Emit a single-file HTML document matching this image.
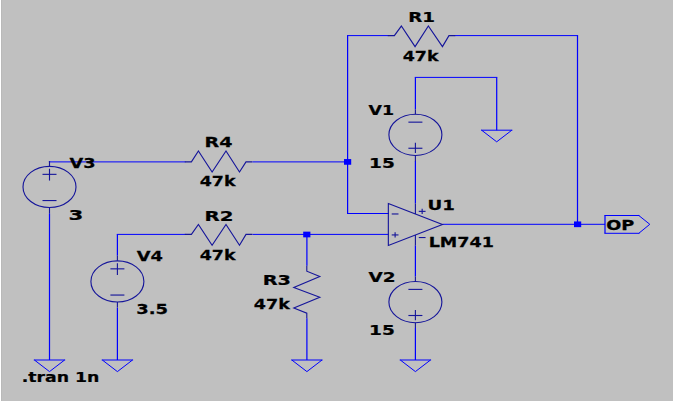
<!DOCTYPE html>
<html><head><meta charset="utf-8"><title>LM741 circuit</title>
<style>
html,body{margin:0;padding:0;background:#c0c0c0;overflow:hidden}
svg{display:block}
text{font-family:"DejaVu Sans", "Liberation Sans", sans-serif;font-weight:bold;font-size:14.9px;fill:#000;stroke:#000;stroke-width:0.25px}
</style></head><body>
<svg width="673" height="401" viewBox="0 0 673 401">
<rect x="0" y="0" width="673" height="401" fill="#c0c0c0"/>
<rect x="0" y="0" width="1" height="401" fill="#ffffff"/>
<rect x="1" y="0" width="1" height="401" fill="#b9b9b9"/>
<line x1="48.90" y1="161.90" x2="185.40" y2="161.90" stroke="#0000ff" stroke-width="1.0"/>
<line x1="49.50" y1="161.40" x2="49.50" y2="162.10" stroke="#0000ff" stroke-width="1.22"/>
<line x1="252.45" y1="161.90" x2="347.60" y2="161.90" stroke="#0000ff" stroke-width="1.0"/>
<line x1="347.00" y1="35.60" x2="388.35" y2="35.60" stroke="#0000ff" stroke-width="1.0"/>
<line x1="347.60" y1="35.60" x2="347.60" y2="213.50" stroke="#0000ff" stroke-width="1.22"/>
<line x1="347.00" y1="213.50" x2="389.00" y2="213.50" stroke="#0000ff" stroke-width="1.0"/>
<line x1="454.80" y1="35.60" x2="578.10" y2="35.60" stroke="#0000ff" stroke-width="1.0"/>
<line x1="577.50" y1="35.60" x2="577.50" y2="224.30" stroke="#0000ff" stroke-width="1.22"/>
<line x1="442.50" y1="224.30" x2="605.00" y2="224.30" stroke="#0000ff" stroke-width="1.0"/>
<line x1="415.40" y1="109.50" x2="415.40" y2="77.40" stroke="#0000ff" stroke-width="1.22"/>
<line x1="414.80" y1="77.40" x2="497.30" y2="77.40" stroke="#0000ff" stroke-width="1.0"/>
<line x1="496.70" y1="77.40" x2="496.70" y2="130.20" stroke="#0000ff" stroke-width="1.22"/>
<line x1="415.40" y1="161.00" x2="415.40" y2="203.50" stroke="#0000ff" stroke-width="1.22"/>
<line x1="415.40" y1="245.40" x2="415.40" y2="276.50" stroke="#0000ff" stroke-width="1.22"/>
<line x1="415.40" y1="328.00" x2="415.40" y2="360.00" stroke="#0000ff" stroke-width="1.22"/>
<line x1="49.50" y1="213.30" x2="49.50" y2="360.00" stroke="#0000ff" stroke-width="1.22"/>
<line x1="117.40" y1="255.70" x2="117.40" y2="234.40" stroke="#0000ff" stroke-width="1.22"/>
<line x1="116.80" y1="234.40" x2="185.40" y2="234.40" stroke="#0000ff" stroke-width="1.0"/>
<line x1="252.45" y1="234.40" x2="388.40" y2="234.40" stroke="#0000ff" stroke-width="1.0"/>
<line x1="306.90" y1="234.40" x2="306.90" y2="265.80" stroke="#0000ff" stroke-width="1.22"/>
<line x1="306.90" y1="318.20" x2="306.90" y2="360.00" stroke="#0000ff" stroke-width="1.22"/>
<line x1="117.40" y1="307.60" x2="117.40" y2="360.00" stroke="#0000ff" stroke-width="1.22"/>
<line x1="33.80" y1="360.00" x2="65.20" y2="360.00" stroke="#0000ff" stroke-width="1.0"/>
<line x1="64.60" y1="360.00" x2="49.50" y2="371.60" stroke="#0000ff" stroke-width="1.0"/>
<line x1="49.50" y1="371.60" x2="34.40" y2="360.00" stroke="#0000ff" stroke-width="1.0"/>
<line x1="101.70" y1="360.00" x2="133.10" y2="360.00" stroke="#0000ff" stroke-width="1.0"/>
<line x1="132.50" y1="360.00" x2="117.40" y2="371.60" stroke="#0000ff" stroke-width="1.0"/>
<line x1="117.40" y1="371.60" x2="102.30" y2="360.00" stroke="#0000ff" stroke-width="1.0"/>
<line x1="291.20" y1="360.00" x2="322.60" y2="360.00" stroke="#0000ff" stroke-width="1.0"/>
<line x1="322.00" y1="360.00" x2="306.90" y2="371.60" stroke="#0000ff" stroke-width="1.0"/>
<line x1="306.90" y1="371.60" x2="291.80" y2="360.00" stroke="#0000ff" stroke-width="1.0"/>
<line x1="399.70" y1="360.00" x2="431.10" y2="360.00" stroke="#0000ff" stroke-width="1.0"/>
<line x1="430.50" y1="360.00" x2="415.40" y2="371.60" stroke="#0000ff" stroke-width="1.0"/>
<line x1="415.40" y1="371.60" x2="400.30" y2="360.00" stroke="#0000ff" stroke-width="1.0"/>
<line x1="481.00" y1="130.20" x2="512.40" y2="130.20" stroke="#0000ff" stroke-width="1.0"/>
<line x1="511.80" y1="130.20" x2="496.70" y2="141.80" stroke="#0000ff" stroke-width="1.0"/>
<line x1="496.70" y1="141.80" x2="481.60" y2="130.20" stroke="#0000ff" stroke-width="1.0"/>
<rect x="344.00" y="159.05" width="7.2" height="5.7" fill="#0000ff"/>
<rect x="303.20" y="231.65" width="7.2" height="5.7" fill="#0000ff"/>
<rect x="574.00" y="221.45" width="7.2" height="5.7" fill="#0000ff"/>
<line x1="604.40" y1="215.50" x2="639.40" y2="215.50" stroke="#0000ff" stroke-width="1.0"/>
<line x1="638.80" y1="215.50" x2="649.80" y2="224.30" stroke="#0000ff" stroke-width="1.0"/>
<line x1="649.80" y1="224.30" x2="638.80" y2="233.30" stroke="#0000ff" stroke-width="1.0"/>
<line x1="604.40" y1="233.30" x2="639.40" y2="233.30" stroke="#0000ff" stroke-width="1.0"/>
<line x1="605.00" y1="233.30" x2="605.00" y2="215.50" stroke="#0000ff" stroke-width="1.22"/>
<path d="M184.80 161.90 L191.40 161.90 L198.40 151.00 L212.10 172.00 L226.00 151.00 L239.50 172.00 L246.00 161.90 L252.30 161.90" fill="none" stroke="#15159a" stroke-width="1.12" stroke-linejoin="miter"/>
<path d="M184.80 234.40 L191.40 234.40 L198.40 224.40 L212.10 245.30 L226.00 224.40 L239.50 245.30 L246.00 234.40 L252.30 234.40" fill="none" stroke="#15159a" stroke-width="1.12" stroke-linejoin="miter"/>
<path d="M387.75 35.60 L394.35 35.60 L401.35 26.05 L415.05 46.65 L428.35 26.05 L442.45 46.65 L448.95 35.60 L455.25 35.60" fill="none" stroke="#15159a" stroke-width="1.12" stroke-linejoin="miter"/>
<path d="M306.80 265.80 L306.80 271.20 L319.80 276.50 L293.80 287.40 L319.80 297.20 L293.80 307.90 L306.80 313.20 L306.80 318.20" fill="none" stroke="#15159a" stroke-width="1.12" stroke-linejoin="miter"/>
<ellipse cx="49.50" cy="186.95" rx="26.5" ry="20.6" fill="none" stroke="#15159a" stroke-width="1.12"/>
<line x1="42.50" y1="174.35" x2="56.50" y2="174.35" stroke="#15159a" stroke-width="1.12"/>
<line x1="49.50" y1="168.75" x2="49.50" y2="180.55" stroke="#15159a" stroke-width="1.12"/>
<line x1="42.50" y1="200.55" x2="56.50" y2="200.55" stroke="#15159a" stroke-width="1.12"/>
<line x1="49.50" y1="161.20" x2="49.50" y2="166.35" stroke="#15159a" stroke-width="1.12"/>
<line x1="49.50" y1="207.55" x2="49.50" y2="213.50" stroke="#15159a" stroke-width="1.12"/>
<ellipse cx="117.40" cy="281.45" rx="26.5" ry="20.6" fill="none" stroke="#15159a" stroke-width="1.12"/>
<line x1="110.40" y1="268.85" x2="124.40" y2="268.85" stroke="#15159a" stroke-width="1.12"/>
<line x1="117.40" y1="263.25" x2="117.40" y2="275.05" stroke="#15159a" stroke-width="1.12"/>
<line x1="110.40" y1="295.05" x2="124.40" y2="295.05" stroke="#15159a" stroke-width="1.12"/>
<line x1="117.40" y1="255.70" x2="117.40" y2="260.85" stroke="#15159a" stroke-width="1.12"/>
<line x1="117.40" y1="302.05" x2="117.40" y2="307.60" stroke="#15159a" stroke-width="1.12"/>
<ellipse cx="415.40" cy="134.85" rx="26.5" ry="20.6" fill="none" stroke="#15159a" stroke-width="1.12"/>
<line x1="408.40" y1="122.15" x2="422.40" y2="122.15" stroke="#15159a" stroke-width="1.12"/>
<line x1="408.40" y1="148.25" x2="422.40" y2="148.25" stroke="#15159a" stroke-width="1.12"/>
<line x1="415.40" y1="142.65" x2="415.40" y2="153.05" stroke="#15159a" stroke-width="1.12"/>
<line x1="415.40" y1="109.50" x2="415.40" y2="114.25" stroke="#15159a" stroke-width="1.12"/>
<line x1="415.40" y1="155.45" x2="415.40" y2="161.20" stroke="#15159a" stroke-width="1.12"/>
<ellipse cx="415.40" cy="302.10" rx="26.5" ry="20.6" fill="none" stroke="#15159a" stroke-width="1.12"/>
<line x1="408.40" y1="289.40" x2="422.40" y2="289.40" stroke="#15159a" stroke-width="1.12"/>
<line x1="408.40" y1="315.50" x2="422.40" y2="315.50" stroke="#15159a" stroke-width="1.12"/>
<line x1="415.40" y1="309.90" x2="415.40" y2="320.30" stroke="#15159a" stroke-width="1.12"/>
<line x1="415.40" y1="276.50" x2="415.40" y2="281.50" stroke="#15159a" stroke-width="1.12"/>
<line x1="415.40" y1="322.70" x2="415.40" y2="328.00" stroke="#15159a" stroke-width="1.12"/>
<path d="M388.34 203.50 L442.46 224.45 L388.34 245.40 Z" fill="none" stroke="#15159a" stroke-width="1.12" stroke-linejoin="miter"/>
<line x1="391.72" y1="213.97" x2="398.49" y2="213.97" stroke="#15159a" stroke-width="1.12"/>
<line x1="391.72" y1="234.93" x2="398.49" y2="234.93" stroke="#15159a" stroke-width="1.12"/>
<line x1="395.11" y1="237.54" x2="395.11" y2="232.31" stroke="#15159a" stroke-width="1.12"/>
<line x1="415.40" y1="203.50" x2="415.40" y2="213.97" stroke="#15159a" stroke-width="1.12"/>
<line x1="415.40" y1="245.40" x2="415.40" y2="234.93" stroke="#15159a" stroke-width="1.12"/>
<line x1="418.78" y1="211.36" x2="425.55" y2="211.36" stroke="#15159a" stroke-width="1.12"/>
<line x1="422.16" y1="208.74" x2="422.16" y2="213.97" stroke="#15159a" stroke-width="1.12"/>
<line x1="418.78" y1="237.54" x2="425.55" y2="237.54" stroke="#15159a" stroke-width="1.12"/>
<text transform="translate(408.27 21.60) scale(1.2289 1)">R1</text>
<text transform="translate(402.66 60.90) scale(1.1700 1)">47k</text>
<text transform="translate(69.50 167.70) scale(1.1946 1)">V3</text>
<text transform="translate(68.47 219.80) scale(1.4318 1)">3</text>
<text transform="translate(204.61 147.10) scale(1.2794 1)">R4</text>
<text transform="translate(199.66 186.40) scale(1.1700 1)">47k</text>
<text transform="translate(204.56 220.60) scale(1.3255 1)">R2</text>
<text transform="translate(199.66 259.90) scale(1.1700 1)">47k</text>
<text transform="translate(136.80 261.40) scale(1.1966 1)">V4</text>
<text transform="translate(136.28 313.65) scale(1.2073 1)">3.5</text>
<text transform="translate(262.64 285.10) scale(1.2970 1)">R3</text>
<text transform="translate(253.85 308.70) scale(1.1765 1)">47k</text>
<text transform="translate(368.50 114.60) scale(1.1672 1)">V1</text>
<text transform="translate(369.08 167.60) scale(1.2416 1)">15</text>
<text transform="translate(427.38 209.60) scale(1.2207 1)">U1</text>
<text transform="translate(428.63 246.60) scale(1.1789 1)">LM741</text>
<text transform="translate(368.50 282.00) scale(1.2372 1)">V2</text>
<text transform="translate(369.08 334.80) scale(1.2416 1)">15</text>
<text transform="translate(606.22 229.70) scale(1.1918 1)">OP</text>
<text transform="translate(21.68 381.50) scale(1.1605 1)">.tran 1n</text>
</svg>
</body></html>
